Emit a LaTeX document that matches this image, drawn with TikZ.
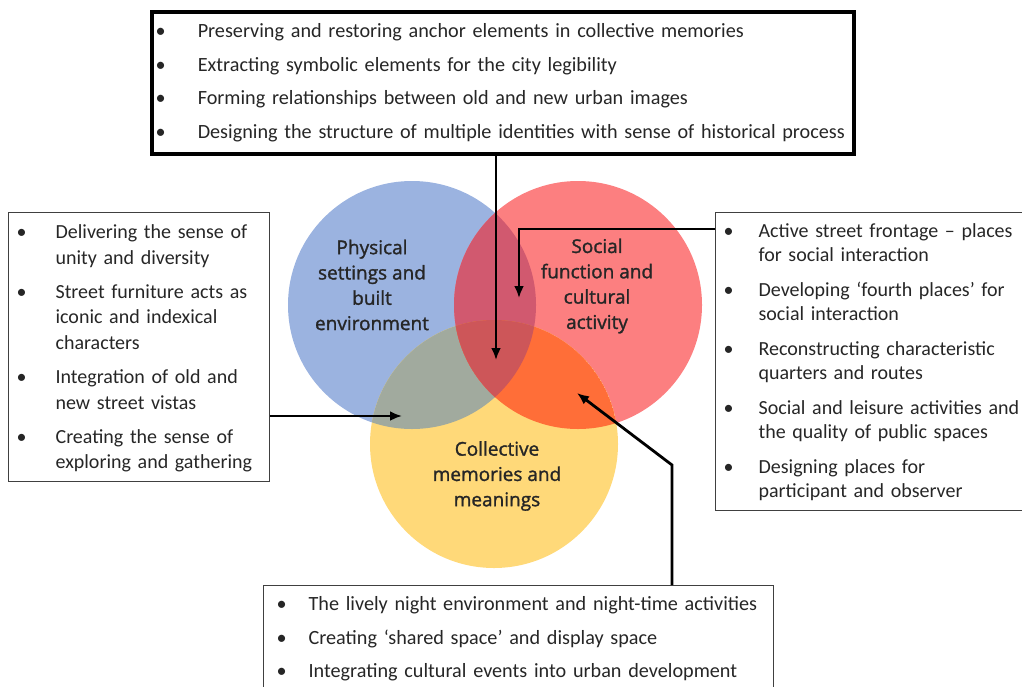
\documentclass[tikz,border=0pt]{standalone}
\usepackage{fontspec}
\setmainfont{Carlito}
\newfontfamily\circfont[FakeBold=1.4]{Open Sans}
\usepackage{enumitem}
\setlist[itemize]{label=\textbullet, topsep=0pt, partopsep=0pt, parsep=0pt}
\usetikzlibrary{arrows.meta}
\definecolor{physblue}{HTML}{9BB3E0}
\definecolor{socred}{HTML}{FC7F80}
\definecolor{colyel}{HTML}{FFD979}
\definecolor{pbsr}{HTML}{D1596F}
\definecolor{pbcm}{HTML}{A1AA9E}
\definecolor{sccm}{HTML}{FF6E38}
\definecolor{allthree}{HTML}{CD5659}
\begin{document}
\begin{tikzpicture}[x=1pt, y=-1pt,
    box/.style={draw=black!75, line width=1.2pt, anchor=north west, inner xsep=5pt, inner ysep=0pt, align=left, text=black!85},
    lbl/.style={align=center, text=black!85, font=\circfont\fontsize{19}{25.3}\selectfont},
    arr/.style={->, >={Latex[length=12pt,width=10pt]}, line width=2.8pt}]
  \tikzstyle{every node}=[font=\fontsize{20}{25.8}\selectfont]
  \path[use as bounding box, clip] (0,0) rectangle (1022,686);

  % the three circles
  \coordinate (cp) at (412,305);
  \coordinate (cs) at (578,305);
  \coordinate (cc) at (494,444);
  \fill[physblue] (cp) circle (124);
  \fill[socred] (cs) circle (124);
  \fill[colyel] (cc) circle (124);
  \begin{scope}
    \clip (cp) circle (124);
    \fill[pbsr] (cs) circle (124);
    \fill[pbcm] (cc) circle (124);
    \clip (cs) circle (124);
    \fill[allthree] (cc) circle (124);
  \end{scope}
  \begin{scope}
    \clip (cs) circle (124);
    \clip (cc) circle (124);
    \fill[sccm] (cc) circle (124);
    \clip (cp) circle (124);
    \fill[allthree] (cc) circle (124);
  \end{scope}

  \node[lbl] (phys) at (372,285) {Physical\\settings and\\built\\environment};
  \node[lbl] (soc) at (597,286) {Social\\function and\\cultural\\activity};
  \node[lbl] (col) at (497,476) {Collective\\memories and\\meanings};

  % boxes
  \node[box, draw=black, line width=3.5pt, text width=692pt, minimum height=142pt, font=\fontsize{20.2}{24}\selectfont] (top) at (150,10) {%
    \begin{itemize}[leftmargin=41pt, labelsep=32pt, itemsep=9.7pt]
    \item Preserving and restoring anchor elements in collective memories
    \item Extracting symbolic elements for the city legibility
    \item Forming relationships between old and new urban images
    \item Designing the structure of multiple identities with sense of historical process
    \end{itemize}\par\vspace*{10pt}};
  \node[box, text width=251pt, minimum height=265pt] (lft) at (8,212) {%
    \begin{itemize}[leftmargin=42pt, labelsep=29pt, itemsep=8pt]
    \item Delivering the sense of\\unity and diversity
    \item Street furniture acts as\\iconic and indexical\\characters
    \item Integration of old and\\new street vistas
    \item Creating the sense of\\exploring and gathering
    \end{itemize}\par\vspace*{9pt}};
  \node[box, text width=310pt, minimum height=298pt, font=\fontsize{20}{24.5}\selectfont] (rgt) at (715,212) {%
    \begin{itemize}[leftmargin=38pt, labelsep=25pt, itemsep=10pt]
    \item Active street frontage -- places\\for social interaction
    \item Developing ‘fourth places’ for\\social interaction
    \item Reconstructing characteristic\\quarters and routes
    \item Social and leisure activities and\\the quality of public spaces
    \item Designing places for\\participant and observer
    \end{itemize}\par\vspace*{10pt}};
  \node[box, text width=500pt, font=\fontsize{20.2}{25}\selectfont] (bot) at (263,585) {%
    \begin{itemize}[leftmargin=40pt, labelsep=22pt, itemsep=8.5pt]
    \item The lively night environment and night-time activities
    \item Creating ‘shared space’ and display space
    \item Integrating cultural events into urban development
    \end{itemize}\par\vspace*{20pt}};

  % arrows
  \coordinate (tri) at (496,360);
  \coordinate (psc) at (519,298);
  \coordinate (pcm) at (402,416);
  \coordinate (kink) at (672,465);
  \coordinate (scm) at (577,393);
  \draw[arr] (top.south -| tri) -- (tri);
  \draw[arr] (rgt.west |- 0,229) -| (psc);
  \draw[arr] (lft.east |- pcm) -- (pcm);
  \draw[arr] (bot.north -| kink) -- (kink) -- (scm);
\end{tikzpicture}
\end{document}
